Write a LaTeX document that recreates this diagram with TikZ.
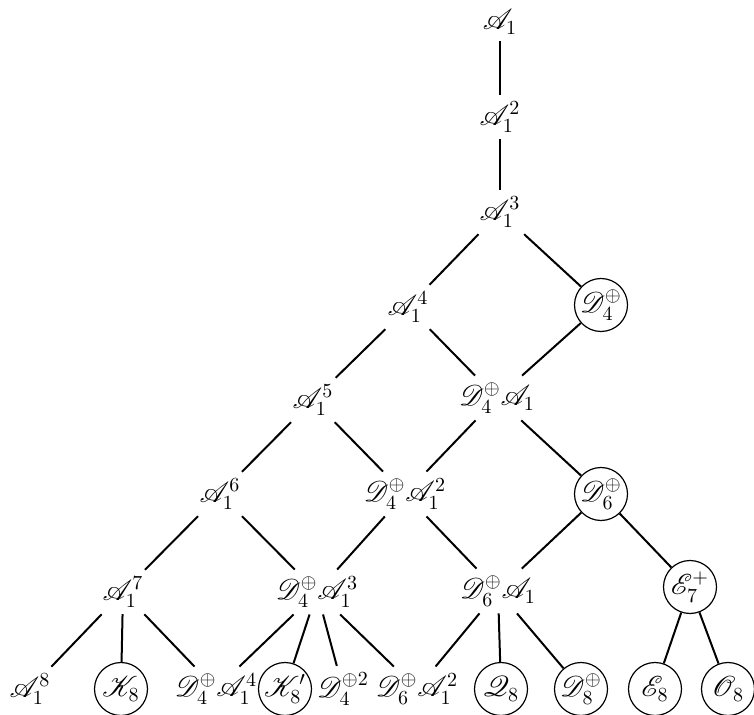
\documentclass[tikz,border=0pt]{standalone}
\usepackage{amsmath}
\usepackage{amssymb}
\usepackage{mathrsfs}
\usepackage{tikz}
\tikzset{
  lbl/.style={inner sep=1pt, outer sep=2.5pt, font=\Large},
  rnd/.style={circle, draw, line width=0.6pt, minimum size=26.5pt, inner sep=0pt, font=\Large},
  link/.style={line width=1pt},
}

\begin{document}
\begin{tikzpicture}[x=0.5pt, y=-0.5pt]
\useasboundingbox (0,0) rectangle (754,715);
\node[lbl] (a1) at (500,22) {$\mathscr{A}_1$};
\node[lbl] (a2) at (500,117) {$\mathscr{A}_1^2$};
\node[lbl] (a3) at (500,212) {$\mathscr{A}_1^3$};
\node[lbl] (a4) at (408,307) {$\mathscr{A}_1^4$};
\node[rnd] (d4) at (601,305) {$\mathscr{D}_4^{\oplus}$};
\node[lbl] (a5) at (313,400) {$\mathscr{A}_1^5$};
\node[lbl] (d4a1) at (497,398) {$\mathscr{D}_4^{\oplus}\mathscr{A}_1$};
\node[lbl] (a6) at (220,494) {$\mathscr{A}_1^6$};
\node[lbl] (d4a2) at (405,494) {$\mathscr{D}_4^{\oplus}\mathscr{A}_1^2$};
\node[rnd] (d6) at (601,494) {$\mathscr{D}_6^{\oplus}$};
\node[lbl] (a7) at (123,592) {$\mathscr{A}_1^7$};
\node[lbl] (d4a3) at (317,592) {$\mathscr{D}_4^{\oplus}\mathscr{A}_1^3$};
\node[lbl] (d6a1) at (498,591) {$\mathscr{D}_6^{\oplus}\mathscr{A}_1$};
\node[rnd] (e7) at (690,587) {$\mathscr{E}_7^{+}$};
% bottom row
\node[lbl] (a8) at (30,689) {$\mathscr{A}_1^8$};
\node[rnd] (k8) at (121,689) {$\mathscr{K}_8$};
\node[lbl] (d4a4) at (216,689) {$\mathscr{D}_4^{\oplus}\mathscr{A}_1^4$};
\node[rnd] (k8p) at (285,689) {$\mathscr{K}_8'$};
\node[lbl] (d4sq) at (343,689) {$\mathscr{D}_4^{\oplus 2}$};
\node[lbl] (d6a2) at (417,689) {$\mathscr{D}_6^{\oplus}\mathscr{A}_1^2$};
\node[rnd] (q8) at (501,689) {$\mathscr{Q}_8$};
\node[rnd] (d8) at (581,689) {$\mathscr{D}_8^{\oplus}$};
\node[rnd] (e8) at (655,689) {$\mathscr{E}_8$};
\node[rnd] (o8) at (728,689) {$\mathscr{O}_8$};

\draw[link] (a1) -- (a2);
\draw[link] (a2) -- (a3);
\draw[link] (a3) -- (a4);
\draw[link] (a3) -- (d4);
\draw[link] (a4) -- (a5);
\draw[link] (a4) -- (d4a1);
\draw[link] (d4) -- (d4a1);
\draw[link] (a5) -- (a6);
\draw[link] (a5) -- (d4a2);
\draw[link] (d4a1) -- (d4a2);
\draw[link] (d4a1) -- (d6);
\draw[link] (a6) -- (a7);
\draw[link] (a6) -- (d4a3);
\draw[link] (d4a2) -- (d4a3);
\draw[link] (d4a2) -- (d6a1);
\draw[link] (d6) -- (d6a1);
\draw[link] (d6) -- (e7);
\draw[link] (a7) -- (a8);
\draw[link] (a7) -- (k8);
\draw[link] (a7) -- (d4a4);
\draw[link] (d4a3) -- (d4a4);
\draw[link] (d4a3) -- (k8p);
\draw[link] (d4a3) -- (d4sq);
\draw[link] (d4a3) -- (d6a2);
\draw[link] (d6a1) -- (d6a2);
\draw[link] (d6a1) -- (q8);
\draw[link] (d6a1) -- (d8);
\draw[link] (e7) -- (e8);
\draw[link] (e7) -- (o8);
\end{tikzpicture}
\end{document}
